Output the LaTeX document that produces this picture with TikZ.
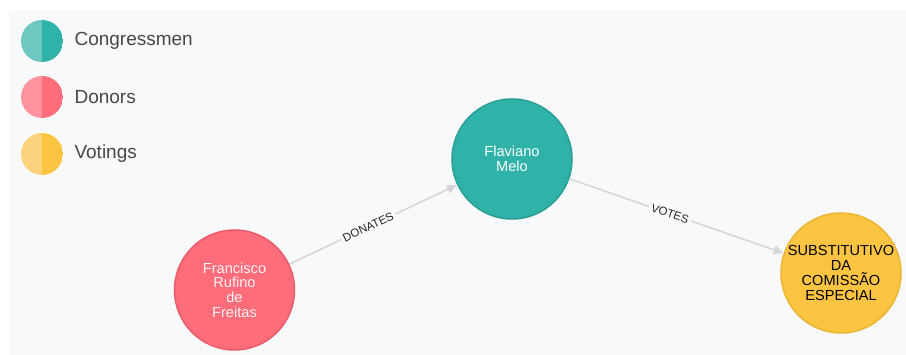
\documentclass[tikz,border=0pt]{standalone}
\usepackage{fontspec}
\setmainfont{Liberation Sans}
\usetikzlibrary{arrows.meta}
\definecolor{bg}{HTML}{F8F9FB}
\definecolor{tealL}{HTML}{6CC8C0}
\definecolor{tealD}{HTML}{2FB3A9}
\definecolor{tealS}{HTML}{2A9F96}
\definecolor{redL}{HTML}{FF939E}
\definecolor{redD}{HTML}{FF6D7B}
\definecolor{redS}{HTML}{E85C6A}
\definecolor{yelL}{HTML}{FDD47D}
\definecolor{yelD}{HTML}{FCC440}
\definecolor{yelS}{HTML}{EDB536}
\definecolor{edgec}{HTML}{D4D5D8}
\definecolor{legtext}{HTML}{474747}
\tikzset{
  gnode/.style={circle, minimum size=120pt, inner sep=0pt, line width=1.5pt, align=center,
    font=\fontsize{14.6}{14.8}\selectfont},
  legcirc/.style n args={2}{circle, minimum size=42pt, inner sep=0pt,
    path picture={\fill[#1] (path picture bounding box.south west) rectangle (path picture bounding box.north);
                  \fill[#2] (path picture bounding box.south) rectangle (path picture bounding box.north east);}},
  legtxt/.style={anchor=west, text=legtext, font=\fontsize{19}{21}\selectfont},
  rel/.style={draw=edgec, line width=1.5pt, -{Triangle[length=10pt,width=9pt]}},
  rellab/.style={sloped, fill=bg, inner sep=2.5pt, text=black!85, font=\fontsize{11.5}{13}\selectfont}
}
\begin{document}
\begin{tikzpicture}[x=1pt,y=1pt]
\useasboundingbox (0,0) rectangle (906,-355);
\fill[white] (0,0) rectangle (906,-355);
\fill[bg] (9,-10) rectangle (906,-355);
% legend
\node[legcirc={tealL}{tealD}] (l1) at (42,-41) {};
\node[legcirc={redL}{redD}] (l2) at (42,-97) {};
\node[legcirc={yelL}{yelD}] (l3) at (42,-154) {};
\node[legtxt] (t1) at (71,-41) {Congressmen};
\node[legtxt] (t2) at (71,-97) {Donors};
\node[legtxt] (t3) at (71,-154) {Votings};
% nodes
\node[gnode, fill=tealD, draw=tealS, text=white] (fl) at (512,-159) {Flaviano\\Melo};
\node[gnode, fill=redD, draw=redS, text=white!95!red] (fr) at (234.5,-290) {Francisco\\Rufino\\de\\Freitas};
\node[gnode, fill=yelD, draw=yelS, text=black] (su) at (841,-273) {SUBSTITUTIVO\\DA\\COMISSÃO\\ESPECIAL};
% relationships
\draw[rel] (fr) -- node[rellab, pos=0.47] (ld) {DONATES} (fl);
\draw[rel] (fl) -- node[rellab, pos=0.47] (lv) {VOTES} (su);
\end{tikzpicture}
\end{document}
